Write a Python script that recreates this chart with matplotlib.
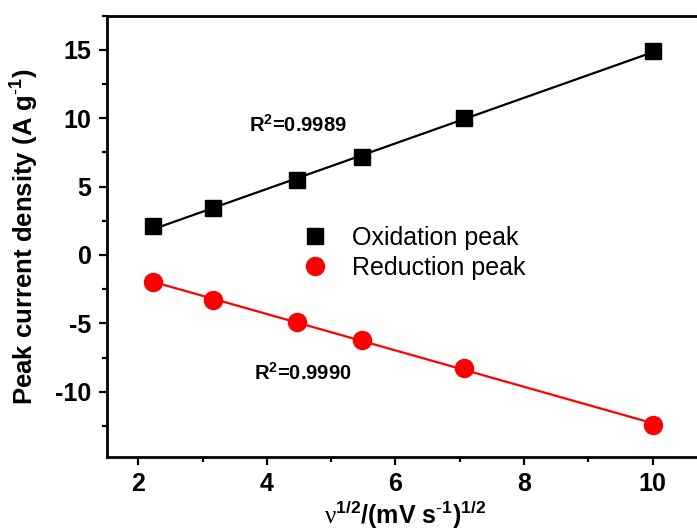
import numpy as np
import matplotlib
matplotlib.use('Agg')
import matplotlib.pyplot as plt
from matplotlib.ticker import MultipleLocator

plt.rcParams['font.family'] = ['Liberation Sans', 'DejaVu Sans']
plt.rcParams['mathtext.fontset'] = 'custom'
plt.rcParams['mathtext.rm'] = 'Liberation Sans'
plt.rcParams['mathtext.bf'] = 'Liberation Sans:bold'
plt.rcParams['mathtext.it'] = 'Liberation Sans:italic'
plt.rcParams['mathtext.sf'] = 'Liberation Serif'
plt.rcParams['axes.unicode_minus'] = False

# square root of scan rate (5, 10, 20, 30, 50, 100 mV/s)
sqrt_rate = [2.236, 3.162, 4.472, 5.477, 7.071, 10.0]
oxidation = [2.1, 3.4, 5.45, 7.15, 10.0, 14.9]
reduction = [-2.0, -3.3, -4.9, -6.2, -8.3, -12.4]
r2_ox = 'R$^{\\mathbf{2}}$=0.9989'
r2_red = 'R$^{\\mathbf{2}}$=0.9990'

fig = plt.figure(figsize=(6.97, 5.32), dpi=100)
ax = fig.add_axes([0.1531, 0.1416, 0.857, 0.8289])

x = np.array(sqrt_rate)
# linear fits
p_ox = np.polyfit(x, oxidation, 1)
p_red = np.polyfit(x, reduction, 1)
ax.plot(x, np.polyval(p_ox, x), color='black', lw=1.6, zorder=2)
ax.plot(x, np.polyval(p_red, x), color='red', lw=1.6, zorder=2)

ax.plot(x, oxidation, 's', color='black', ms=12, label='Oxidation peak', zorder=3)
ax.plot(x, reduction, 'o', color='red', ms=13, label='Reduction peak', zorder=3)

ax.text(3.72, 9.5, r2_ox, fontsize=14.5, fontweight='bold', va='center')
ax.text(3.8, -8.65, r2_red, fontsize=14.5, fontweight='bold', va='center')

ax.legend(loc='center left', bbox_to_anchor=(0.29, 0.462), frameon=False,
          fontsize=18, handletextpad=0.5, labelspacing=0.22, borderaxespad=0)

ax.set_xlim(1.51, 10.8)
ax.set_ylim(-14.75, 17.5)
ax.xaxis.set_major_locator(MultipleLocator(2))
ax.xaxis.set_minor_locator(MultipleLocator(1))
ax.yaxis.set_major_locator(MultipleLocator(5))
ax.yaxis.set_minor_locator(MultipleLocator(2.5))

for s in ax.spines.values():
    s.set_linewidth(2)
ax.tick_params(which='major', direction='out', length=6, width=1.6, labelsize=18, pad=5)
ax.tick_params(which='minor', direction='out', length=3.5, width=1.6)
for lab in ax.get_xticklabels() + ax.get_yticklabels():
    lab.set_fontweight('bold')

ax.set_ylabel('Peak current density (A g$^{\\mathbf{\\text{-}1}}$)', fontsize=18.5, fontweight='bold', labelpad=10)
ax.set_xlabel('$\\mathsf{\\nu}^{\\mathbf{1/2}}$/(mV s$^{\\mathbf{\\text{-}1}}$)$^{\\mathbf{1/2}}$', fontsize=18, fontweight='bold', labelpad=2)

fig.savefig('out.png', dpi=100)
